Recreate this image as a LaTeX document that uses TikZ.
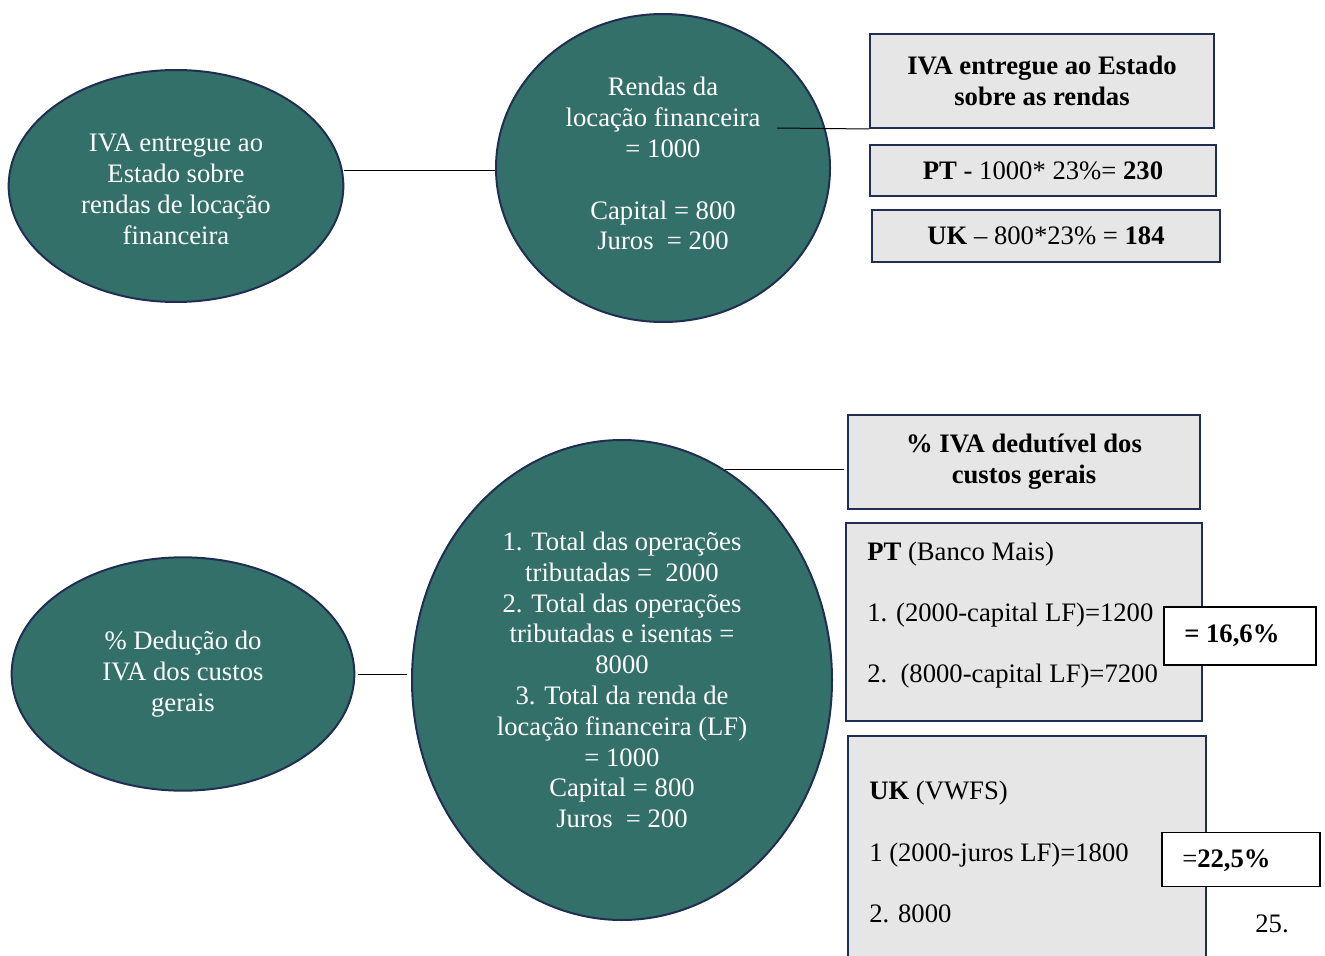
\documentclass[tikz,border=0pt]{standalone}
\usepackage{fontspec}
\setmainfont{Liberation Serif}
\usetikzlibrary{shapes.geometric}
\definecolor{tealfill}{RGB}{52,112,106}
\definecolor{navy}{RGB}{31,46,82}
\definecolor{boxgray}{RGB}{231,230,230}
\begin{document}
\begin{tikzpicture}[x=0.75pt,y=-0.75pt,
  ell/.style={ellipse, draw=navy, line width=1.5pt, fill=tealfill, text=white, inner sep=0pt, align=center, font=\fontsize{20}{23.1}\selectfont},
  gbox/.style={rectangle, draw=navy, line width=1.5pt, fill=boxgray, inner sep=0pt, align=center, font=\fontsize{20}{23.5}\selectfont},
  wbox/.style={rectangle, draw=black, line width=0.9pt, fill=white, inner sep=0pt},
  conn/.style={draw=black, line width=0.75pt},
  plain/.style={inner sep=0pt, align=left, font=\fontsize{20}{46}\selectfont},
  txt/.style={inner sep=0pt, font=\fontsize{20}{23}\selectfont}]
\useasboundingbox (0,0) rectangle (1325,956);

% top row
\node[ell, minimum width=251pt, minimum height=174pt] (e1) at (176,186)
  {\rule{0pt}{18pt}IVA entregue ao\\Estado sobre\\rendas de locação\\financeira};
\node[ell, minimum width=250.5pt, minimum height=231pt] (e2) at (663,168)
  {Rendas da\\locação financeira\\= 1000\\[23.1pt]Capital = 800\\Juros\ \ = 200\rule[-6.5pt]{0pt}{0pt}};
\node[gbox, minimum width=258pt, minimum height=70.5pt, font=\fontsize{20}{23.5}\selectfont\bfseries] (b1) at (1042,81)
  {IVA entregue ao Estado\\sobre as rendas};
\node[gbox, minimum width=259.5pt, minimum height=38pt] (b2) at (1043,170.5)
  {\textbf{PT} - 1000* 23\%= \textbf{230}};
\node[gbox, minimum width=261pt, minimum height=39pt] (b3) at (1046,236)
  {\textbf{UK} – 800*23\% = \textbf{184}};

\coordinate (y170) at (0,170);
\draw[conn] (e1.east |- y170) -- (e2.west |- y170);
\coordinate (l2) at (777,128);
\draw[conn] (l2) -- (b1.south west);

% bottom row
\node[ell, minimum width=257pt, minimum height=175pt] (e3) at (183,674)
  {\% Dedução do\\IVA dos custos\\gerais};
\node[ell, minimum width=315pt, minimum height=360pt] (e4) at (622,680)
  {1. Total das operações\\tributadas =\ \ 2000\\2. Total das operações\\tributadas e isentas =\\8000\\3. Total da renda de\\locação financeira (LF)\\= 1000\\Capital = 800\\Juros\ \ = 200};
\node[gbox, minimum width=264pt, minimum height=70.5pt, font=\fontsize{20}{23.5}\selectfont\bfseries] (b4) at (1024,462)
  {\% IVA dedutível dos\\custos gerais};
\node[gbox, minimum width=267pt, minimum height=148.5pt] (b5) at (1024,622) {};
\node[plain, anchor=west] (t5) at (867,615)
  {\textbf{PT} (Banco Mais)\\1. (2000-capital LF)=1200\\2.\ \ (8000-capital LF)=7200};
\node[gbox, minimum width=268.5pt, minimum height=183pt] (b7) at (1027,858) {};
\node[plain, anchor=west] (t7) at (869,852)
  {\textbf{UK} (VWFS)\\1 (2000-juros LF)=1800\\2. 8000};
\node[wbox, minimum width=114pt, minimum height=43.5pt] (b6) at (1240,636) {};
\node[txt, anchor=west, font=\fontsize{20}{23}\selectfont\bfseries] (t6) at (1184,636) {= 16,6\%};
\node[wbox, minimum width=118.5pt, minimum height=40pt] (b8) at (1241,859.5) {};
\node[txt, anchor=west] (t8) at (1182,861) {=\textbf{22,5\%}};
\node[txt] (pg) at (1272,924) {25.};

\draw[conn, shorten <=2pt, shorten >=3pt] (e3.east) -- (e3.east -| e4.west);
\draw[conn, shorten >=2pt] (e4.64.6) -- (e4.64.6 -| b4.west);
\end{tikzpicture}
\end{document}
